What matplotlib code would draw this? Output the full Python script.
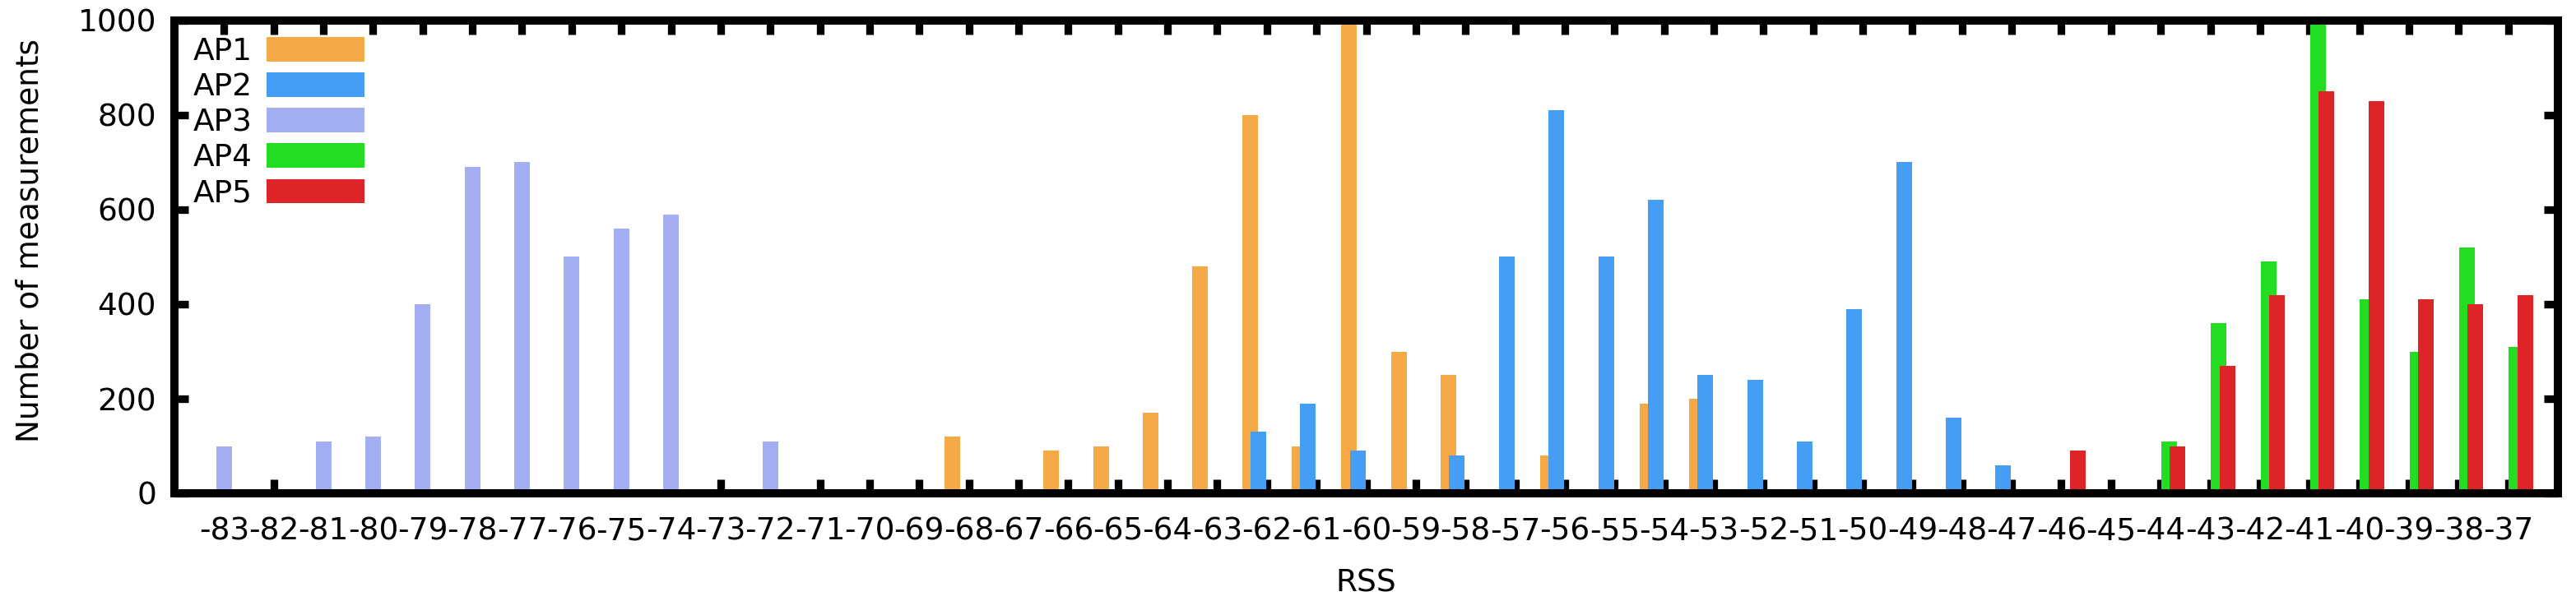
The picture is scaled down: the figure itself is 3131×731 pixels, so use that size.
import numpy as np
import matplotlib
matplotlib.use('Agg')
import matplotlib.pyplot as plt

# RSS categories (x axis)
rss = list(range(-83, -36))

# counts per access point, only where the bar exists
ap1_rss = [-68, -66, -65, -64, -63, -62, -61, -60, -59, -58, -56, -54, -53]
ap1_val = [120, 90, 100, 170, 480, 800, 100, 1000, 300, 250, 80, 190, 200]

ap2_rss = [-62, -61, -60, -58, -57, -56, -55, -54, -53, -52, -51, -50, -49, -48, -47]
ap2_val = [130, 190, 90, 80, 500, 810, 500, 620, 250, 240, 110, 390, 700, 160, 60]

ap3_rss = [-83, -81, -80, -79, -78, -77, -76, -75, -74, -72]
ap3_val = [100, 110, 120, 400, 690, 700, 500, 560, 590, 110]

ap4_rss = [-44, -43, -42, -41, -40, -39, -38, -37]
ap4_val = [110, 360, 490, 1000, 410, 300, 520, 310]

ap5_rss = [-46, -44, -43, -42, -41, -40, -39, -38, -37]
ap5_val = [90, 100, 270, 420, 850, 830, 410, 400, 420]

labels = ['AP1', 'AP2', 'AP3', 'AP4', 'AP5']
colors = ['#f4a846', '#459ef3', '#a3aef3', '#23dd23', '#dd2427']
series = [(ap1_rss, ap1_val), (ap2_rss, ap2_val), (ap3_rss, ap3_val),
          (ap4_rss, ap4_val), (ap5_rss, ap5_val)]

W, H = 3131, 731
fig = plt.figure(figsize=(W / 100, H / 100), dpi=100)
ax = fig.add_axes([212 / W, 1 - 600 / H, (3109 - 212) / W, (600 - 25) / H])

step = 0.17
width = 0.315
idx = {r: i for i, r in enumerate(rss)}
for k, (xs, vals) in enumerate(series):
    pos = np.array([idx[r] for r in xs]) + (k - 2) * step
    ax.bar(pos, vals, width=width, color=colors[k], linewidth=0, label=labels[k])

ax.set_xlim(-1, len(rss))
ax.set_ylim(0, 1000)
ax.set_xticks(range(len(rss)))
ax.set_xticklabels([str(r) for r in rss])
ax.set_yticks([0, 200, 400, 600, 800, 1000])
ax.set_axisbelow(True)

for s in ax.spines.values():
    s.set_linewidth(7.2)
ax.tick_params(direction='in', length=12.2, width=6.7, top=True, right=True,
               labelsize=27)
ax.tick_params(axis='x', pad=20.5)
ax.tick_params(axis='y', pad=15.8)

fig.text(1660 / W, 1 - 720 / H, 'RSS', ha='center', va='baseline', fontsize=27)
fig.text(47 / W, 1 - 293 / H, 'Number of measurements', rotation=90,
         rotation_mode='anchor', ha='center', va='baseline', fontsize=27)

ax.legend(markerfirst=False, frameon=False, fontsize=27, handlelength=3.17,
          handleheight=0.85, handletextpad=0.45, labelspacing=0.19,
          loc='upper left', bbox_to_anchor=(235 / W, 1 - 45 / H),
          bbox_transform=fig.transFigure, borderpad=0, borderaxespad=0)

fig.savefig('out.png', dpi=100)
